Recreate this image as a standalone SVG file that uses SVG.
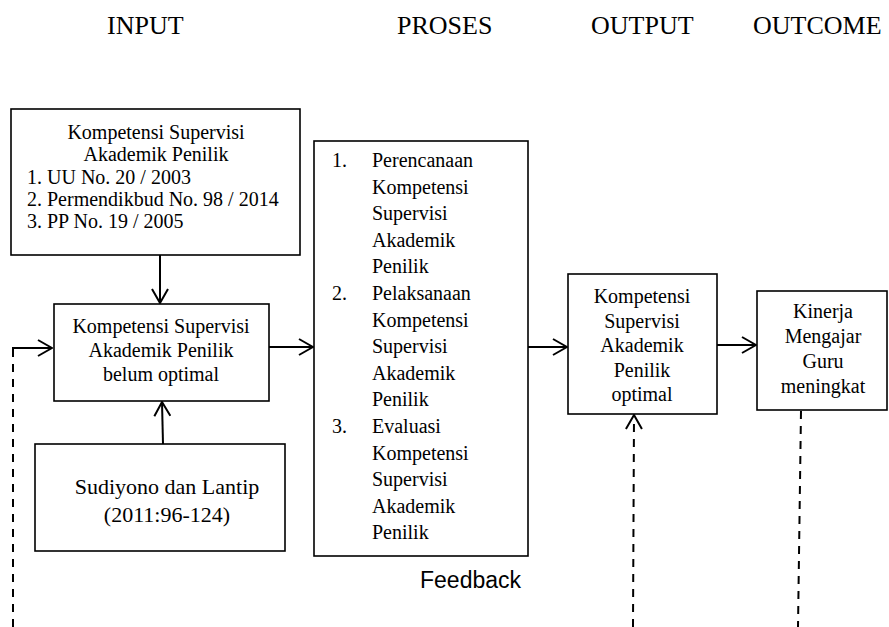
<svg xmlns="http://www.w3.org/2000/svg" width="889" height="627" viewBox="0 0 889 627">
<style>
.box{fill:#fff;stroke:#000;stroke-width:1.6}
.t{font-family:"Liberation Serif","Times New Roman",serif;font-size:20px;fill:#000}
.c{text-anchor:middle}
.h{font-family:"Liberation Serif","Times New Roman",serif;font-size:26px;fill:#000}
.ln{fill:none;stroke:#000;stroke-width:2}
.dash{stroke-dasharray:8,7}
</style>
<defs>
<marker id="arr" viewBox="0 0 16 18" refX="15" refY="9" markerWidth="16" markerHeight="18" orient="auto" markerUnits="userSpaceOnUse">
<path d="M1,1 L15,9 L1,17" fill="none" stroke="#000" stroke-width="2"/>
</marker>
</defs>
<rect width="889" height="627" fill="#fff"/>
<g id="headers">
<text class="h" x="107" y="34">INPUT</text>
<text class="h" x="397" y="34">PROSES</text>
<text class="h" x="591" y="34">OUTPUT</text>
<text class="h" x="753" y="34">OUTCOME</text>
</g>
<g id="connectors">
<line class="ln" x1="160" y1="255" x2="160" y2="303" marker-end="url(#arr)"/>
<line class="ln" x1="163" y1="444" x2="162" y2="402" marker-end="url(#arr)"/>
<line class="ln" x1="269" y1="347" x2="313" y2="347" marker-end="url(#arr)"/>
<line class="ln" x1="528" y1="347" x2="567" y2="347" marker-end="url(#arr)"/>
<line class="ln" x1="717" y1="345" x2="756" y2="345" marker-end="url(#arr)"/>
<line class="ln dash" x1="13" y1="627" x2="13" y2="348"/>
<line class="ln" x1="12" y1="348" x2="52" y2="348" marker-end="url(#arr)"/>
<line class="ln dash" x1="633" y1="627" x2="634" y2="415" marker-end="url(#arr)"/>
<line class="ln dash" x1="801" y1="411" x2="798" y2="627"/>
</g>
<g id="node-input-top">
<rect class="box" x="11" y="109" width="289" height="146"/>
<text class="t c" x="156" y="139">Kompetensi Supervisi</text>
<text class="t c" x="156" y="161">Akademik Penilik</text>
<text class="t" x="27" y="184">1. UU No. 20 / 2003</text>
<text class="t" x="27" y="206">2. Permendikbud No. 98 / 2014</text>
<text class="t" x="27" y="228">3. PP No. 19 / 2005</text>
</g>
<g id="node-input-mid">
<rect class="box" x="54" y="304" width="215" height="97"/>
<text class="t c" x="161" y="333">Kompetensi Supervisi</text>
<text class="t c" x="161" y="357">Akademik Penilik</text>
<text class="t c" x="161" y="381">belum optimal</text>
</g>
<g id="node-input-bottom">
<rect class="box" x="35" y="444" width="250" height="107"/>
<text class="t c" x="167" y="494" style="font-size:22px">Sudiyono dan Lantip</text>
<text class="t c" x="167" y="522" style="font-size:22px">(2011:96-124)</text>
</g>
<g id="node-proses">
<rect class="box" x="314" y="141" width="214" height="415"/>
<text class="t" x="332" y="167">1.</text>
<text class="t" x="372" y="167">Perencanaan</text>
<text class="t" x="372" y="193.6">Kompetensi</text>
<text class="t" x="372" y="220.2">Supervisi</text>
<text class="t" x="372" y="246.8">Akademik</text>
<text class="t" x="372" y="273.4">Penilik</text>
<text class="t" x="332" y="300">2.</text>
<text class="t" x="372" y="300">Pelaksanaan</text>
<text class="t" x="372" y="326.6">Kompetensi</text>
<text class="t" x="372" y="353.2">Supervisi</text>
<text class="t" x="372" y="379.8">Akademik</text>
<text class="t" x="372" y="406.4">Penilik</text>
<text class="t" x="332" y="433">3.</text>
<text class="t" x="372" y="433">Evaluasi</text>
<text class="t" x="372" y="459.6">Kompetensi</text>
<text class="t" x="372" y="486.2">Supervisi</text>
<text class="t" x="372" y="512.8">Akademik</text>
<text class="t" x="372" y="539.4">Penilik</text>
</g>
<g id="label-feedback">
<text x="420" y="588" style="font-family:'Liberation Sans',Arial,sans-serif;font-size:23px;fill:#000">Feedback</text>
</g>
<g id="node-output">
<rect class="box" x="568" y="274" width="149" height="140"/>
<text class="t c" x="642" y="303">Kompetensi</text>
<text class="t c" x="642" y="327.5">Supervisi</text>
<text class="t c" x="642" y="352">Akademik</text>
<text class="t c" x="642" y="376.5">Penilik</text>
<text class="t c" x="642" y="401">optimal</text>
</g>
<g id="node-outcome">
<rect class="box" x="757" y="291" width="130" height="119"/>
<text class="t c" x="823" y="318">Kinerja</text>
<text class="t c" x="823" y="343">Mengajar</text>
<text class="t c" x="823" y="368">Guru</text>
<text class="t c" x="823" y="393">meningkat</text>
</g>
</svg>
